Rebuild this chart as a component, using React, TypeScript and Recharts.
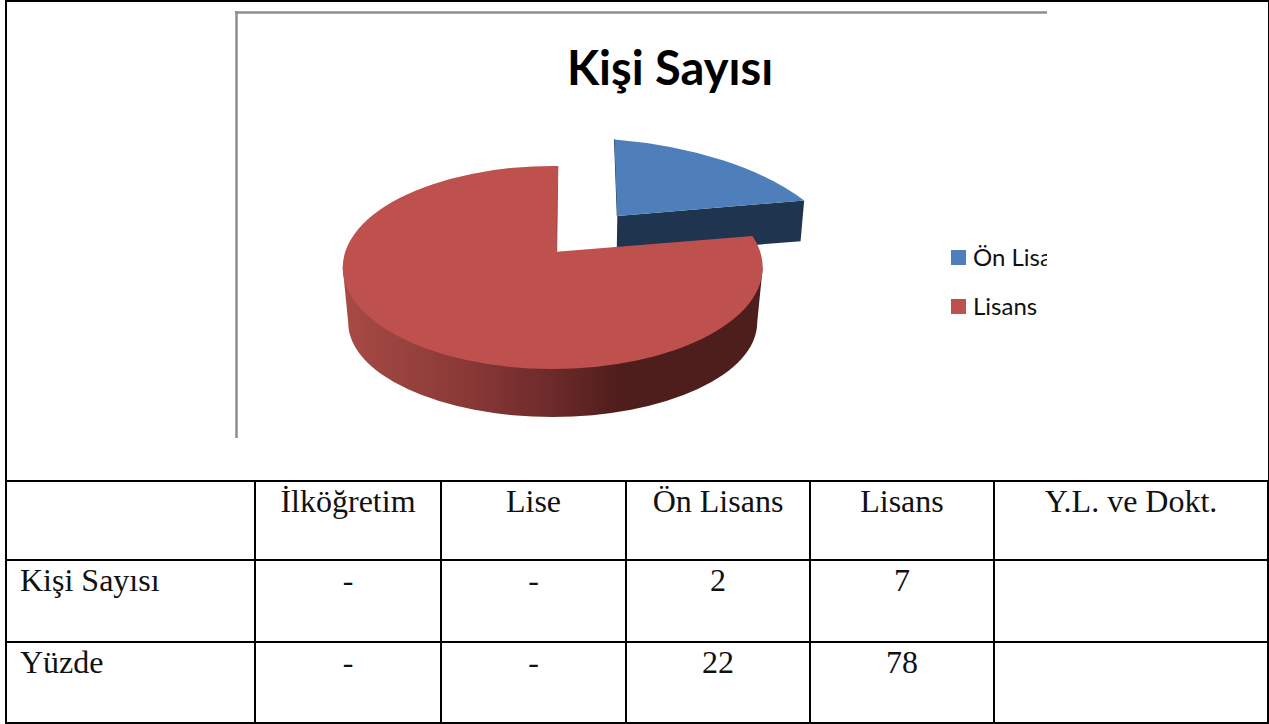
import React from 'react';
import { PieChart, Pie, Legend } from 'recharts';

const chartTitle = 'Kişi Sayısı';
const sliceNames = ['Ön Lisans', 'Lisans'];
const sliceValues = [2, 7];
const sliceColors = ['#4E7FBB', '#BE504D'];
const tableHeader = ['', 'İlköğretim', 'Lise', 'Ön Lisans', 'Lisans', 'Y.L. ve Dokt.'];
const tableRows = [
  ['Kişi Sayısı', '-', '-', '2', '7', ''],
  ['Yüzde', '-', '-', '22', '78', ''],
];
const columnWidths = [249, 186, 185, 184, 184, 274];
const rowHeights = [79, 82, 81];

const pieData = sliceNames.map((name, i) => ({ name, value: sliceValues[i], fill: sliceColors[i] }));

const RAD = Math.PI / 180;
const VIEW = [
  { dx: 14.6, dy: 5, rx: 280, ry: 135, phi0: 9.7, phiScale: 0.601, ax: 64.6, ay: -51.5 },
  { dx: 0, dy: 0, rx: 210, ry: 101.5, phi0: -10.7, phiScale: 1.0336, ax: 4, ay: -15.8 },
];

function Slice3D(props: any) {
  const { cx, cy, startAngle, endAngle, index, fill } = props;
  const g = VIEW[index];
  const a0 = 90 - startAngle;
  const a1 = 90 - endAngle;
  const rim = (a: number) => {
    const p = (g.phi0 + a * g.phiScale) * RAD;
    return [cx + g.dx + g.rx * Math.sin(p), cy + g.dy - g.ry * Math.cos(p)];
  };
  const [x0, y0] = rim(a0);
  const [x1, y1] = rim(a1);
  const ax = cx + g.ax;
  const ay = cy + g.ay;
  const large = (a1 - a0) * g.phiScale > 180 ? 1 : 0;
  const face = `M${ax} ${ay}L${x0} ${y0}A${g.rx} ${g.ry} 0 ${large} 1 ${x1} ${y1}Z`;
  if (index === 0) {
    return (
      <g>
        <path d={`M${ax} ${ay}L${x1} ${y1}L${x1 - 3.6} ${y1 + 40.7}L${ax - 0.6} ${ay + 40}Z`} fill="#1F344F" />
        <line x1={x0} y1={y0} x2={ax} y2={ay} stroke="#1F344F" strokeWidth={1} />
        <path d={face} fill={fill} />
      </g>
    );
  }
  const bx = cx;
  const by = cy + 55;
  const brx = 204.5;
  const bry = 94.5;
  return (
    <g>
      <defs>
        <linearGradient id="redSide" gradientUnits="userSpaceOnUse" x1={cx - brx} y1={0} x2={cx + brx} y2={0}>
          <stop offset="0" stopColor="#A64A44" />
          <stop offset="0.3" stopColor="#883836" />
          <stop offset="0.5" stopColor="#6C2A2A" />
          <stop offset="0.66" stopColor="#4F1E1C" />
          <stop offset="1" stopColor="#4E1E1C" />
        </linearGradient>
      </defs>
      <path
        d={`M${cx - g.rx} ${cy}L${bx - brx} ${by}A${brx} ${bry} 0 0 0 ${bx + brx} ${by}L${cx + g.rx} ${cy}Z`}
        fill="url(#redSide)"
      />
      <path d={face} fill={fill} />
      <line x1={x1} y1={y1} x2={ax} y2={ay} stroke="#8F3E3B" strokeWidth={0.8} />
    </g>
  );
}

function LegendContent(props: any) {
  const items = props.payload || [];
  return (
    <div style={{ width: 96, overflow: 'hidden', whiteSpace: 'nowrap', paddingTop: 12 }}>
      {items.map((it: any) => (
        <div key={it.value} style={{ height: 49, position: 'relative', fontFamily: 'Lato', fontSize: 24, color: '#111', lineHeight: '25px' }}>
          <span style={{ position: 'absolute', left: 0, top: 0, width: 15, height: 15, background: it.payload?.fill ?? it.color }} />
          <span style={{ position: 'absolute', left: 22, top: -6 }}>{it.value}</span>
        </div>
      ))}
    </div>
  );
}

const cellBase: React.CSSProperties = {
  border: '2px solid #000',
  padding: '1px 0 0 0',
  verticalAlign: 'top',
  textAlign: 'center',
  fontFamily: '"Liberation Serif"',
  fontSize: 32,
  lineHeight: '36px',
  color: '#111',
};

export default function App() {
  return (
    <div style={{ position: 'absolute', left: 0, top: 0, width: 1269, height: 724, background: '#fff', overflow: 'hidden' }}>
      <div style={{ position: 'absolute', left: 5, top: 0, width: 1261, height: 482, borderLeft: '2px solid #000', borderRight: '2px solid #000', borderTop: '2px solid #000', boxSizing: 'content-box' }} />
      <div style={{ position: 'absolute', left: 0, top: 0 }}>
        <PieChart width={1269} height={480} margin={{ top: 0, right: 0, bottom: 0, left: 0 }}>
          <line x1={235} y1={12.5} x2={1047} y2={12.5} stroke="#8E8E8E" strokeWidth={2.5} />
          <line x1={236.5} y1={11} x2={236.5} y2={438} stroke="#8E8E8E" strokeWidth={2.5} />
          <text x={670} y={85} textAnchor="middle" fontFamily="Lato" fontWeight={700} fontSize={47} fill="#000">
            {chartTitle}
          </text>
          <Pie
            data={pieData}
            dataKey="value"
            nameKey="name"
            cx={552.7}
            cy={267.5}
            outerRadius={210}
            startAngle={90}
            endAngle={-270}
            paddingAngle={0}
            stroke="none"
            shape={Slice3D}
            isAnimationActive={false}
          />
          <Legend
            content={LegendContent}
            itemSorter={null}
            wrapperStyle={{ position: 'absolute', left: 951, top: 238, width: 96, bottom: 'auto', right: 'auto' }}
          />
        </PieChart>
      </div>
      <table style={{ position: 'absolute', left: 5, top: 480, borderCollapse: 'collapse', tableLayout: 'fixed', width: columnWidths.reduce((a, b) => a + b, 0) }}>
        <colgroup>
          {columnWidths.map((w, i) => (
            <col key={i} style={{ width: w }} />
          ))}
        </colgroup>
        <tbody>
          {[tableHeader, ...tableRows].map((row, r) => (
            <tr key={r} style={{ height: rowHeights[r] }}>
              {row.map((c, i) => (
                <td key={i} style={{ ...cellBase, ...(i === 0 ? { textAlign: 'left', paddingLeft: 13 } : {}) }}>
                  {c}
                </td>
              ))}
            </tr>
          ))}
        </tbody>
      </table>
    </div>
  );
}
